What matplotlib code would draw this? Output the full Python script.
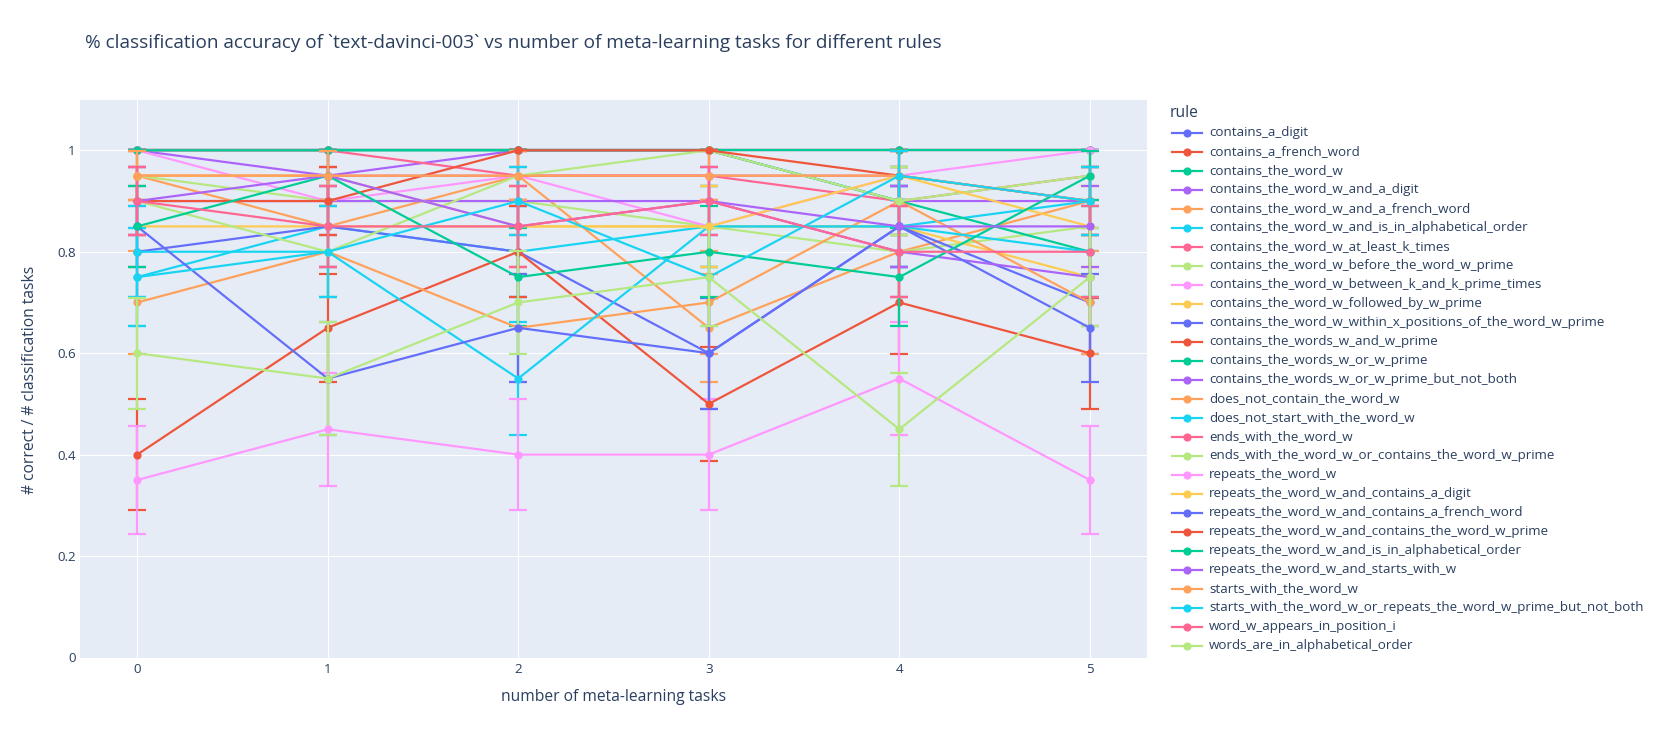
import numpy as np
import matplotlib
matplotlib.use("Agg")
import matplotlib.pyplot as plt
from matplotlib.lines import Line2D

plt.rcParams['font.family'] = ['Open Sans', 'DejaVu Sans']

# ---------------- data ----------------
x_tasks = [0, 1, 2, 3, 4, 5]
n_examples = 20  # classification tasks per point (used for std. error bars)

rules = [
    "contains_a_digit",
    "contains_a_french_word",
    "contains_the_word_w",
    "contains_the_word_w_and_a_digit",
    "contains_the_word_w_and_a_french_word",
    "contains_the_word_w_and_is_in_alphabetical_order",
    "contains_the_word_w_at_least_k_times",
    "contains_the_word_w_before_the_word_w_prime",
    "contains_the_word_w_between_k_and_k_prime_times",
    "contains_the_word_w_followed_by_w_prime",
    "contains_the_word_w_within_x_positions_of_the_word_w_prime",
    "contains_the_words_w_and_w_prime",
    "contains_the_words_w_or_w_prime",
    "contains_the_words_w_or_w_prime_but_not_both",
    "does_not_contain_the_word_w",
    "does_not_start_with_the_word_w",
    "ends_with_the_word_w",
    "ends_with_the_word_w_or_contains_the_word_w_prime",
    "repeats_the_word_w",
    "repeats_the_word_w_and_contains_a_digit",
    "repeats_the_word_w_and_contains_a_french_word",
    "repeats_the_word_w_and_contains_the_word_w_prime",
    "repeats_the_word_w_and_is_in_alphabetical_order",
    "repeats_the_word_w_and_starts_with_w",
    "starts_with_the_word_w",
    "starts_with_the_word_w_or_repeats_the_word_w_prime_but_not_both",
    "word_w_appears_in_position_i",
    "words_are_in_alphabetical_order",
]

acc_contains_a_digit = [1.0, 1.0, 1.0, 1.0, 1.0, 1.0]
acc_contains_a_french_word = [1.0, 1.0, 1.0, 1.0, 1.0, 1.0]
acc_contains_the_word_w = [1.0, 1.0, 1.0, 1.0, 1.0, 1.0]
acc_w_and_a_digit = [1.0, 0.95, 1.0, 1.0, 0.90, 0.90]
acc_w_and_a_french_word = [0.95, 0.85, 0.95, 0.65, 0.80, 0.90]
acc_w_and_alphabetical = [0.75, 0.85, 0.80, 0.85, 0.85, 0.90]
acc_w_at_least_k_times = [1.0, 1.0, 0.95, 0.95, 0.90, 0.95]
acc_w_before_w_prime = [0.95, 0.90, 0.90, 0.85, 0.80, 0.85]
acc_w_between_k_and_k_prime = [1.0, 0.90, 0.95, 0.85, 0.95, 1.0]
acc_w_followed_by_w_prime = [0.85, 0.85, 0.85, 0.85, 0.85, 0.75]
acc_w_within_x_positions = [0.80, 0.85, 0.80, 0.60, 0.85, 0.70]
acc_words_w_and_w_prime = [0.40, 0.65, 0.80, 0.50, 0.70, 0.60]
acc_words_w_or_w_prime = [1.0, 1.0, 1.0, 1.0, 0.90, 0.80]
acc_w_or_w_prime_not_both = [0.90, 0.90, 0.90, 0.90, 0.80, 0.75]
acc_not_contain_w = [0.70, 0.80, 0.65, 0.70, 0.90, 0.70]
acc_not_start_with_w = [0.80, 0.80, 0.55, 0.85, 0.85, 0.80]
acc_ends_with_w = [0.95, 0.95, 0.95, 0.95, 0.95, 0.90]
acc_ends_with_w_or_w_prime = [0.90, 0.80, 0.95, 1.0, 0.90, 0.95]
acc_repeats_w = [0.35, 0.45, 0.40, 0.40, 0.55, 0.35]
acc_repeats_w_and_digit = [0.95, 0.95, 0.85, 0.85, 0.95, 0.85]
acc_repeats_w_and_french = [0.85, 0.55, 0.65, 0.60, 0.85, 0.65]
acc_repeats_w_and_w_prime = [0.90, 0.90, 1.0, 1.0, 0.95, 0.90]
acc_repeats_w_and_alphabetical = [0.85, 0.95, 0.75, 0.80, 0.75, 0.95]
acc_repeats_w_and_starts_w = [0.90, 0.95, 0.85, 0.90, 0.85, 0.85]
acc_starts_with_w = [0.95, 0.95, 0.95, 0.95, 0.95, 0.90]
acc_starts_w_or_repeats_w_prime = [0.75, 0.80, 0.90, 0.75, 0.95, 0.90]
acc_w_in_position_i = [0.90, 0.85, 0.85, 0.90, 0.80, 0.80]
acc_alphabetical_order = [0.60, 0.55, 0.70, 0.75, 0.45, 0.75]

accuracy = [
    acc_contains_a_digit, acc_contains_a_french_word, acc_contains_the_word_w,
    acc_w_and_a_digit, acc_w_and_a_french_word, acc_w_and_alphabetical,
    acc_w_at_least_k_times, acc_w_before_w_prime, acc_w_between_k_and_k_prime,
    acc_w_followed_by_w_prime, acc_w_within_x_positions, acc_words_w_and_w_prime,
    acc_words_w_or_w_prime, acc_w_or_w_prime_not_both, acc_not_contain_w,
    acc_not_start_with_w, acc_ends_with_w, acc_ends_with_w_or_w_prime,
    acc_repeats_w, acc_repeats_w_and_digit, acc_repeats_w_and_french,
    acc_repeats_w_and_w_prime, acc_repeats_w_and_alphabetical,
    acc_repeats_w_and_starts_w, acc_starts_with_w, acc_starts_w_or_repeats_w_prime,
    acc_w_in_position_i, acc_alphabetical_order,
]

y_ticks = [0, 0.2, 0.4, 0.6, 0.8, 1.0]
y_tick_labels = ["0", "0.2", "0.4", "0.6", "0.8", "1"]

palette = ['#636EFA', '#EF553B', '#00CC96', '#AB63FA', '#FFA15A',
           '#19D3F3', '#FF6692', '#B6E880', '#FF97FF', '#FECB52']

TEXT = '#2a3f5f'
W, H = 1670, 739
PX = 0.72   # points per pixel at dpi 100
FS = 1.115  # text scale

fig = plt.figure(figsize=(W / 100, H / 100), dpi=100)
L, R, T, B = 80, 1147, 99.6, 657.5
ax = fig.add_axes([L / W, 1 - B / H, (R - L) / W, (B - T) / H])
ax.set_facecolor('#E5ECF6')

for i, (rule, vals) in enumerate(zip(rules, accuracy)):
    p = np.array(vals)
    err = np.sqrt(p * (1 - p) / n_examples)
    c = palette[i % len(palette)]
    ax.errorbar(x_tasks, p, yerr=err, color=c, ecolor=c, lw=2.2 * PX,
                elinewidth=2.2 * PX, capsize=9 * PX, capthick=2.2 * PX,
                marker='o', markersize=6.8 * PX, zorder=3 + i * 0.01)

ax.set_xlim(-0.30, 5.30)
ax.set_ylim(0, 1.1)
ax.set_xticks(x_tasks)
ax.set_yticks(y_ticks)
ax.set_yticklabels(y_tick_labels)
ax.grid(True, color='white', lw=1.1 * PX, zorder=0)
ax.set_axisbelow(True)
for s in ax.spines.values():
    s.set_visible(False)
ax.tick_params(length=0, labelsize=12 * PX * FS, colors=TEXT)
ax.tick_params(axis='y', pad=3)
ax.tick_params(axis='x', pad=4)

# titles
fig.text(85 / W, 1 - 43 / H,
         "% classification accuracy of `text-davinci-003` vs number of meta-learning tasks for different rules",
         fontsize=17 * PX * FS, color=TEXT, ha='left', va='center')
fig.text((L + R) / 2 / W, 1 - 697 / H, "number of meta-learning tasks",
         fontsize=14 * PX * FS, color=TEXT, ha='center', va='center')
fig.text(30 / W, 1 - 380 / H, "# correct / # classification tasks",
         fontsize=14 * PX * FS, color=TEXT, ha='center', va='center', rotation=90)

# legend (drawn manually in figure pixel positions)
fig.text(1170 / W, 1 - 113 / H, "rule", fontsize=14 * PX * FS, color=TEXT,
         ha='left', va='center')
for i, rule in enumerate(rules):
    yc = 1 - (132.6 + 19.0 * i) / H
    c = palette[i % len(palette)]
    fig.add_artist(Line2D([1172 / W, 1202 / W], [yc, yc], color=c,
                          lw=2.2 * PX, transform=fig.transFigure))
    fig.add_artist(Line2D([1187 / W], [yc], color=c, marker='o',
                          markersize=6.8 * PX, transform=fig.transFigure))
    fig.text(1209 / W, yc, rule, fontsize=12 * PX * FS, color=TEXT,
             ha='left', va='center')

fig.savefig("out.png", dpi=100, facecolor='white')
